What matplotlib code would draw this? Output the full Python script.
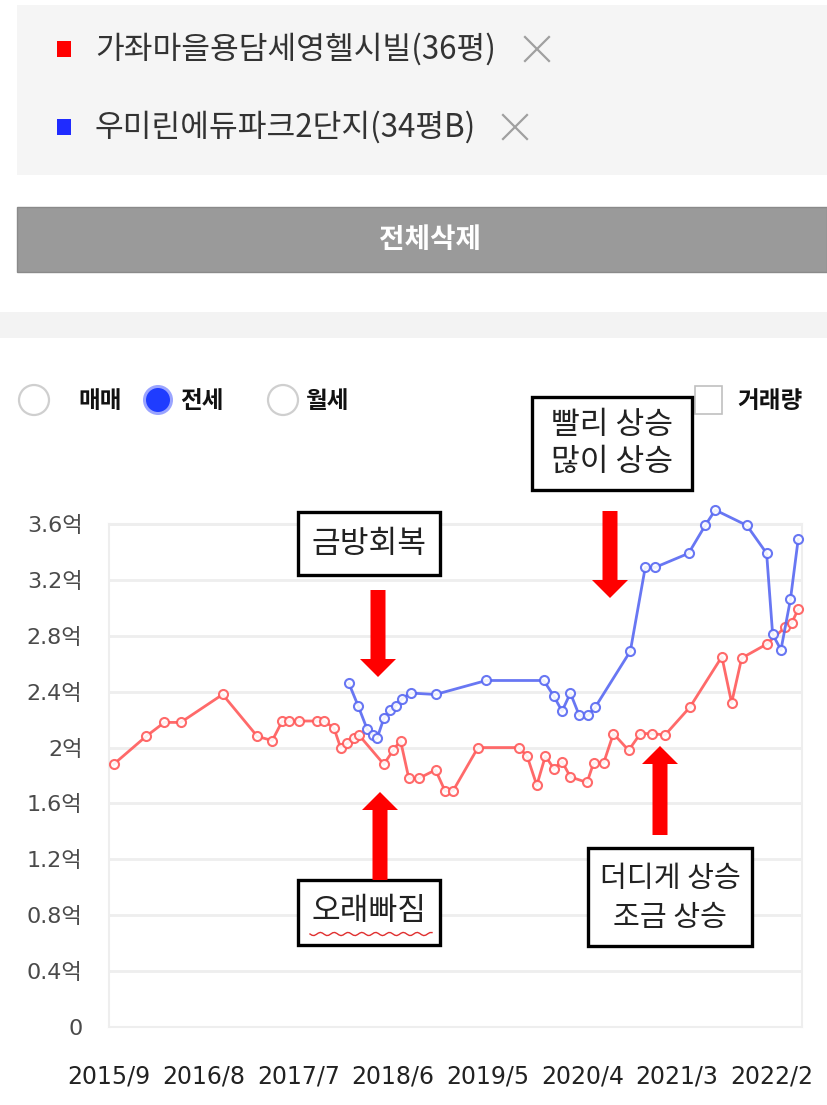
import matplotlib
matplotlib.use('Agg')
import matplotlib.pyplot as plt
from matplotlib.patches import Rectangle, Circle, Polygon
from matplotlib.lines import Line2D
import numpy as np

plt.rcParams['font.family'] = ['Noto Sans CJK KR', 'DejaVu Sans']

# ---------------- data ----------------
series_names = ['가좌마을용담세영헬시빌(36평)', '우미린에듀파크2단지(34평B)']

red_dates = ['2015-09-17', '2016-01-10', '2016-03-14', '2016-05-11', '2016-10-07',
             '2017-02-08', '2017-03-30', '2017-05-05', '2017-05-27', '2017-07-02',
             '2017-09-07', '2017-09-30', '2017-11-05', '2017-11-28', '2017-12-21',
             '2018-01-14', '2018-02-02', '2018-04-29', '2018-06-01', '2018-06-27',
             '2018-07-26', '2018-09-01', '2018-10-29', '2018-12-02', '2018-12-30',
             '2019-03-27', '2019-08-19', '2019-09-18', '2019-10-22', '2019-11-22',
             '2019-12-21', '2020-01-20', '2020-02-19', '2020-04-17', '2020-05-10',
             '2020-06-15', '2020-07-19', '2020-09-12', '2020-10-23', '2020-12-04',
             '2021-01-19', '2021-04-16', '2021-08-07', '2021-09-11', '2021-10-16',
             '2022-01-13', '2022-03-17', '2022-04-10', '2022-05-03']
red_values = [1.88, 2.08, 2.18, 2.18, 2.38,
              2.08, 2.05, 2.19, 2.19, 2.19,
              2.19, 2.19, 2.14, 2.00, 2.03,
              2.07, 2.09, 1.88, 1.98, 2.05,
              1.78, 1.78, 1.84, 1.69, 1.69,
              2.00, 2.00, 1.94, 1.73, 1.94,
              1.85, 1.90, 1.79, 1.75, 1.89,
              1.89, 2.10, 1.98, 2.10, 2.10,
              2.09, 2.29, 2.65, 2.32, 2.64,
              2.74, 2.86, 2.89, 2.99]

blue_dates = ['2017-12-27', '2018-01-29', '2018-03-01', '2018-03-20', '2018-04-06',
              '2018-04-29', '2018-05-22', '2018-06-10', '2018-07-03', '2018-08-02',
              '2018-10-29', '2019-04-26', '2019-11-16', '2019-12-21', '2020-01-20',
              '2020-02-19', '2020-03-20', '2020-04-20', '2020-05-16', '2020-09-18',
              '2020-11-10', '2020-12-15', '2021-04-11', '2021-06-09', '2021-07-14',
              '2021-11-04', '2022-01-13', '2022-02-04', '2022-03-03', '2022-04-06',
              '2022-05-03']
blue_values = [2.46, 2.30, 2.13, 2.09, 2.07,
               2.21, 2.27, 2.30, 2.35, 2.39,
               2.38, 2.48, 2.48, 2.37, 2.26,
               2.39, 2.23, 2.23, 2.29, 2.69,
               3.29, 3.29, 3.39, 3.59, 3.70,
               3.59, 3.39, 2.81, 2.70, 3.06,
               3.49]

y_ticks = [0, 0.4, 0.8, 1.2, 1.6, 2.0, 2.4, 2.8, 3.2, 3.6]
y_tick_labels = ['0', '0.4억', '0.8억', '1.2억', '1.6억', '2억', '2.4억', '2.8억', '3.2억', '3.6억']
x_tick_dates = ['2015-09-01', '2016-08-01', '2017-07-01', '2018-06-01',
                '2019-05-01', '2020-04-01', '2021-03-01', '2022-02-01']
x_tick_labels = ['2015/9', '2016/8', '2017/7', '2018/6', '2019/5', '2020/4', '2021/3', '2022/2']
radio_labels = ['매매', '전세', '월세']
volume_label = '거래량'
clear_label = '전체삭제'
notes = [['빨리 상승', '많이 상승'], ['금방회복'], ['오래빠짐'], ['더디게 상승', '조금 상승']]


def to_month(s):
    y, m, d = (int(v) for v in s.split('-'))
    return (y - 2015) * 12 + (m - 9) + (d - 1) / 30.0


red_x = [to_month(d) for d in red_dates]
blue_x = [to_month(d) for d in blue_dates]
tick_x = [to_month(d) for d in x_tick_dates]

RED = '#ff5a5a'
BLUE = '#5868f2'

W, H = 827, 1105
fig = plt.figure(figsize=(W / 100, H / 100), dpi=100)
fig.patch.set_facecolor('white')

# background overlay in pixel coordinates
bg = fig.add_axes([0, 0, 1, 1], zorder=0)
bg.set_xlim(0, W)
bg.set_ylim(H, 0)
bg.axis('off')

bg.add_patch(Rectangle((17, 5), W - 17, 170, facecolor='#f5f5f5', edgecolor='none'))
legend_colors = ['#ff0000', '#1f2bff']
legend_y = [49, 127]
legend_x_end = [537, 515]
for name, col, yy, xe in zip(series_names, legend_colors, legend_y, legend_x_end):
    bg.add_patch(Rectangle((57, yy - 8), 14, 16, facecolor=col, edgecolor='none'))
    bg.text(95, yy, name, fontsize=22.5, color='#333333', va='center', ha='left')
    bg.add_line(Line2D([xe - 12, xe + 12], [yy - 12, yy + 12], color='#a0a0a0', lw=1.6))
    bg.add_line(Line2D([xe - 12, xe + 12], [yy + 12, yy - 12], color='#a0a0a0', lw=1.6))

bg.add_patch(Rectangle((17, 207), W - 17, 65, facecolor='#9a9a9a', edgecolor='#8a8a8a', lw=1))
bg.text(430, 240, clear_label, fontsize=20, color='white', fontweight='bold',
        ha='center', va='center')

bg.add_patch(Rectangle((0, 312), W, 26, facecolor='#f3f3f3', edgecolor='none'))

radio_cx = [34, 158, 283]
label_x = [78, 180, 305]
for i, (lab, cx, lx) in enumerate(zip(radio_labels, radio_cx, label_x)):
    if i == 1:
        bg.add_patch(Circle((cx, 400), 15, facecolor='#9aa4ff', edgecolor='none'))
        bg.add_patch(Circle((cx, 400), 12, facecolor='#1f3cff', edgecolor='none'))
    else:
        bg.add_patch(Circle((cx, 400), 15, facecolor='white', edgecolor='#cfcfcf', lw=1.6))
    bg.text(lx, 401, lab, fontsize=17, fontweight='bold', color='#111111',
            ha='left', va='center')
bg.add_patch(Rectangle((695, 386), 27, 28, facecolor='white', edgecolor='#c0c0c0', lw=1.2))
bg.text(737, 401, volume_label, fontsize=17, fontweight='bold', color='#111111',
        ha='left', va='center')

# ---------------- chart ----------------
ax_left, ax_right, ax_top, ax_bot = 109, 802, 524, 1027
ax = fig.add_axes([ax_left / W, 1 - ax_bot / H, (ax_right - ax_left) / W, (ax_bot - ax_top) / H],
                  zorder=1)
ax.set_facecolor('white')
ax.set_xlim((ax_left - 108) / 8.62, (ax_right - 108) / 8.62)
ax.set_ylim(0, 3.6)
ax.set_yticks(y_ticks)
ax.set_yticklabels(y_tick_labels, family=['DejaVu Sans', 'Noto Sans CJK KR'],
                   fontsize=16, color='#4a4a4a')
ax.set_xticks(tick_x)
ax.set_xticklabels(x_tick_labels, family=['DejaVu Sans'], fontsize=17, color='#222222')
ax.tick_params(axis='y', length=0, pad=19)
ax.tick_params(axis='x', length=0, pad=27)
ax.grid(axis='y', color='#eeeeee', lw=2)
ax.set_axisbelow(True)
for side in ['left', 'right', 'top', 'bottom']:
    ax.spines[side].set_color('#eeeeee')
    ax.spines[side].set_linewidth(1.5)

ax.plot(red_x, red_values, color=RED, lw=2, marker='o', ms=6.5, mfc='white',
        mec=RED, mew=1.5, clip_on=False, zorder=3, alpha=0.9)
ax.plot(blue_x, blue_values, color=BLUE, lw=2, marker='o', ms=6.5, mfc='white',
        mec=BLUE, mew=1.5, clip_on=False, zorder=4, alpha=0.9)

# ---------------- annotations (foreground overlay) ----------------
fg = fig.add_axes([0, 0, 1, 1], zorder=2)
fg.set_xlim(0, W)
fg.set_ylim(H, 0)
fg.axis('off')
fg.patch.set_alpha(0)

boxes = [(532, 397, 692, 490), (298, 512, 440, 575), (298, 880, 440, 945), (588, 848, 752, 946)]
line_ys = [[425, 462], [544], [911], [879, 918]]
sizes = [22.5, 22.5, 22.5, 21]
for (x0, y0, x1, y1), lines, ys, fs in zip(boxes, notes, line_ys, sizes):
    fg.add_patch(Rectangle((x0, y0), x1 - x0, y1 - y0, facecolor='white',
                           edgecolor='black', lw=2.4))
    for t, yy in zip(lines, ys):
        fg.text((x0 + x1) / 2, yy, t, fontsize=fs, color='#222222', fontweight='light',
                ha='center', va='center')

# red squiggle under 오래빠짐
sx = np.linspace(310, 432, 60)
fg.plot(sx, 934 + 1.6 * np.sin((sx - 310) / 2.2), color='#e03030', lw=1)


def arrow(cx, y_tail, y_tip, shaft=15, head_w=36, head_l=18):
    d = 1 if y_tip > y_tail else -1
    base = y_tip - d * head_l
    pts = [(cx - shaft / 2, y_tail), (cx + shaft / 2, y_tail), (cx + shaft / 2, base),
           (cx + head_w / 2, base), (cx, y_tip), (cx - head_w / 2, base), (cx - shaft / 2, base)]
    fg.add_patch(Polygon(pts, closed=True, facecolor='#ff0000', edgecolor='none'))


arrow(610, 511, 598)
arrow(378, 590, 677)
arrow(380, 880, 792)
arrow(660, 835, 746)

fig.savefig('out.png', dpi=100, facecolor='white')
